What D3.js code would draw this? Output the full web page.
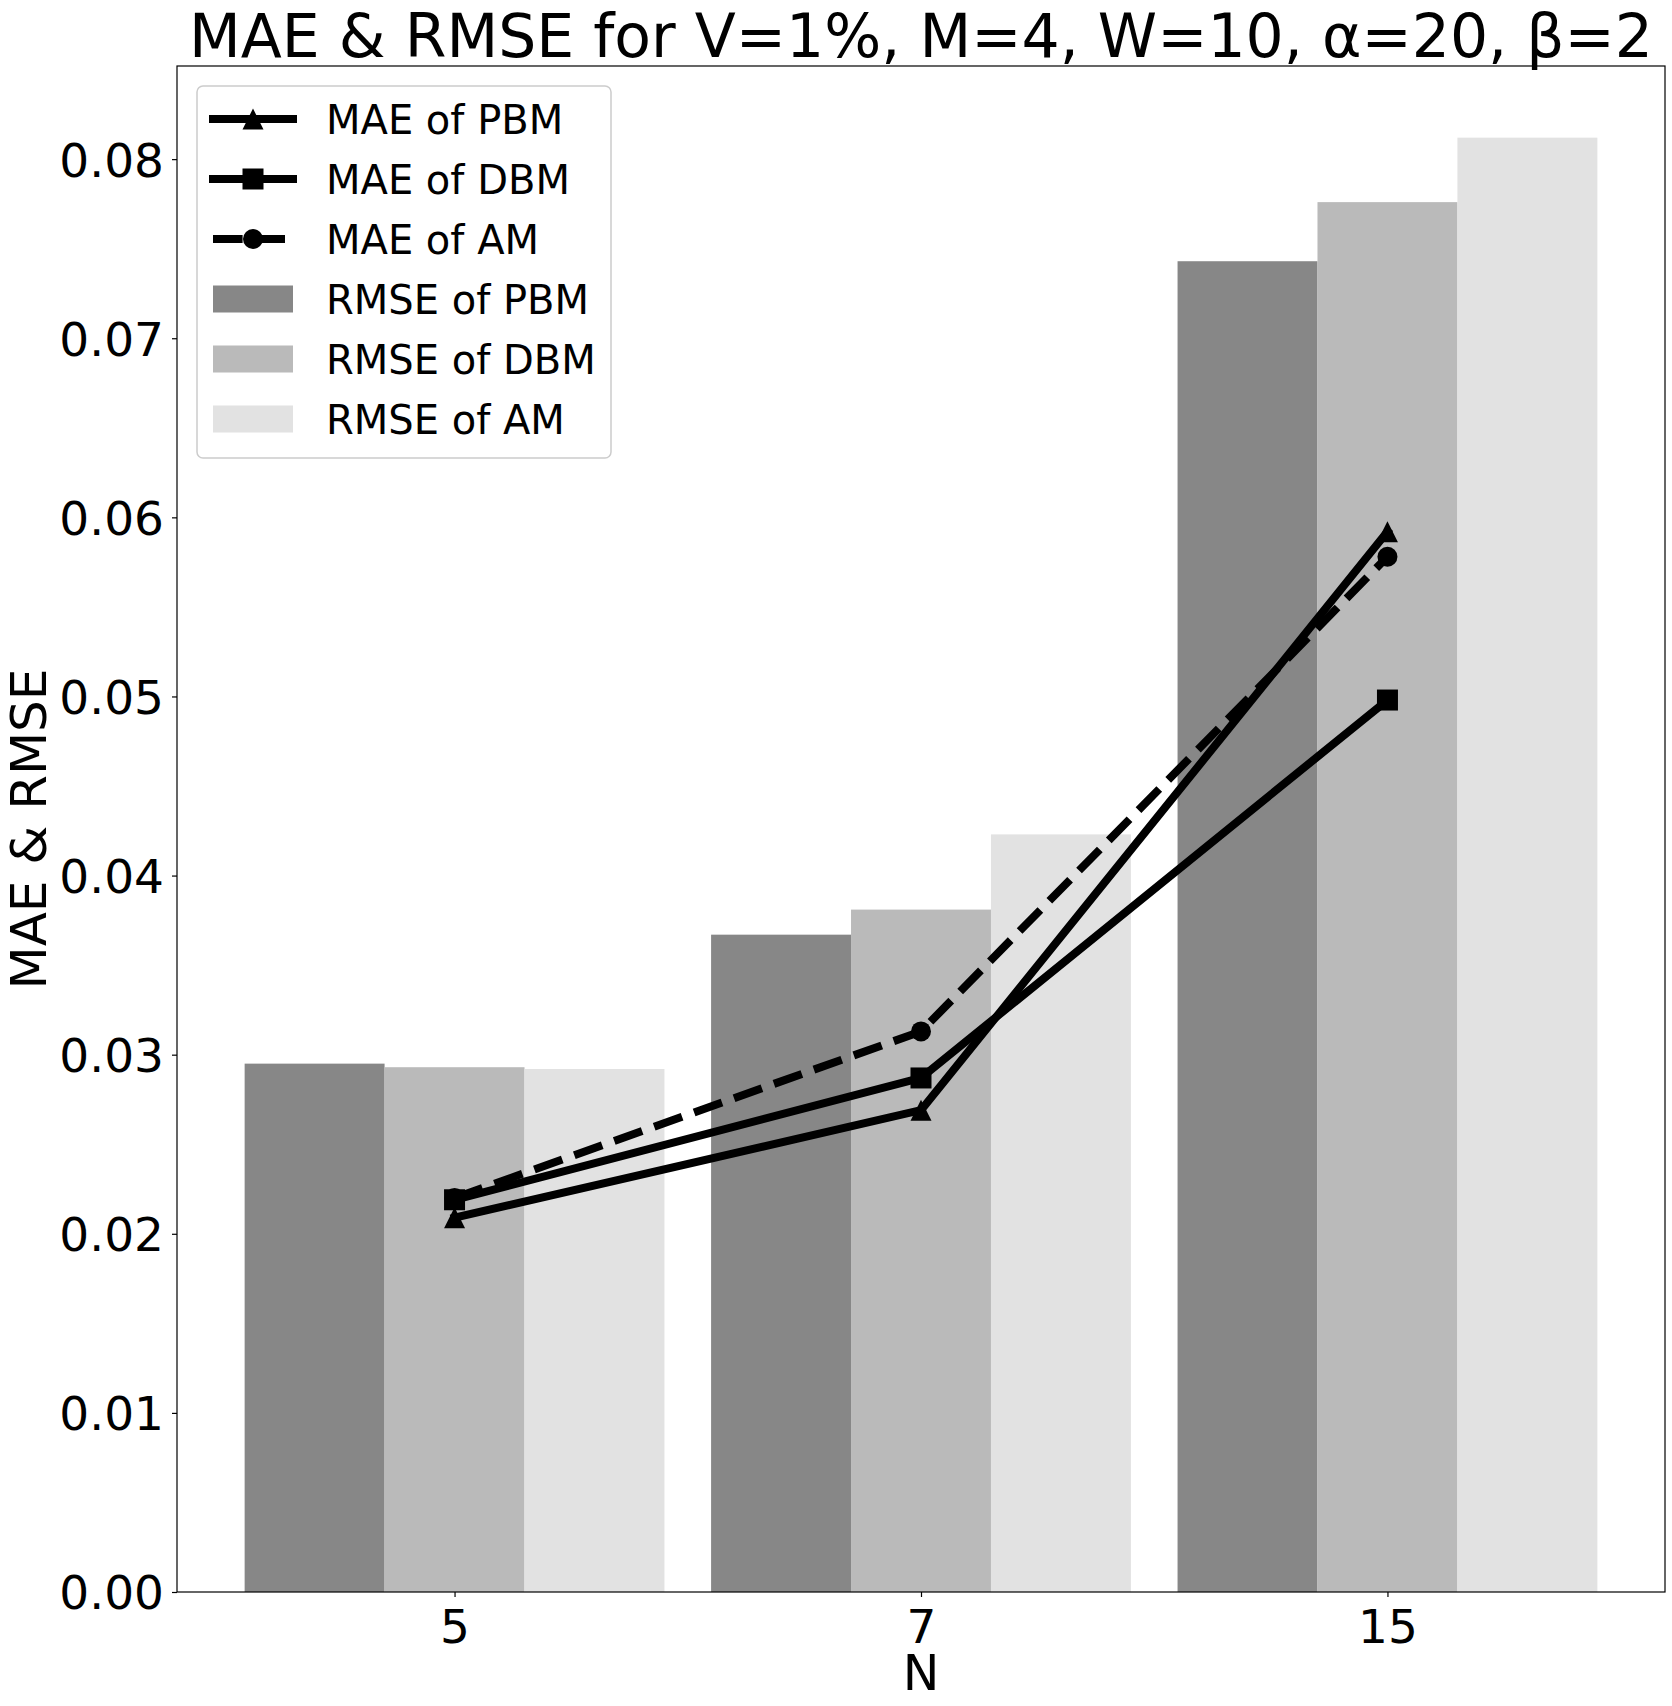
<!DOCTYPE html>
<html>
<head>
<meta charset="utf-8">
<script src="https://cdn.jsdelivr.net/npm/d3@7"></script>
<style>
  html, body { margin: 0; padding: 0; background: #fff; }
  svg { display: block; font-family: "DejaVu Sans", sans-serif; }
</style>
</head>
<body>
<svg id="chart" width="1672" height="1706"></svg>
<script>
// ---- data ----
const categories = ["5", "7", "15"];
const rmsePBM = [0.0295, 0.0367, 0.0743];
const rmseDBM = [0.0293, 0.0381, 0.0776];
const rmseAM  = [0.0292, 0.0423, 0.0812];
const maePBM = [0.0209, 0.0269, 0.0592];
const maeDBM = [0.0219, 0.0287, 0.0498];
const maeAM  = [0.0220, 0.0313, 0.0578];
const yTickValues = [0, 0.01, 0.02, 0.03, 0.04, 0.05, 0.06, 0.07, 0.08];
const barNames = ["RMSE of PBM", "RMSE of DBM", "RMSE of AM"];
const lineNames = ["MAE of PBM", "MAE of DBM", "MAE of AM"];
const titleText = "MAE & RMSE for V=1%, M=4, W=10, α=20, β=2";

// ---- layout ----
const svg = d3.select("#chart");
const L = 177, R = 1665, T = 66, B = 1592;
const x = d3.scaleLinear().domain([-0.595, categories.length - 1 + 0.595]).range([L, R]);
const y = d3.scaleLinear().domain([0, 0.0852]).range([B, T]);
const barW = 0.3;
const barColors = ["#878787", "#bababa", "#e2e2e2"];
const barSeries = [rmsePBM, rmseDBM, rmseAM];
const lineSeries = [maePBM, maeDBM, maeAM];
const markerTypes = ["triangle", "square", "circle"];
const dashed = [false, false, true];
const lw = 8, ms = 21;

svg.append("rect").attr("width", 1672).attr("height", 1706).attr("fill", "#fff");

// bars
barSeries.forEach((vals, s) => {
  svg.append("g").selectAll("rect").data(vals).join("rect")
    .attr("x", (d, i) => x(i + (s - 1) * barW - barW / 2))
    .attr("width", x(barW) - x(0))
    .attr("y", d => y(d))
    .attr("height", d => y(0) - y(d))
    .attr("fill", barColors[s]);
});

function drawMarker(g, type, cx, cy) {
  if (type === "triangle") {
    g.append("path")
      .attr("d", `M${cx},${cy - ms / 2}L${cx - ms / 2},${cy + ms / 2}L${cx + ms / 2},${cy + ms / 2}Z`)
      .attr("fill", "#000");
  } else if (type === "square") {
    g.append("rect").attr("x", cx - ms / 2).attr("y", cy - ms / 2)
      .attr("width", ms).attr("height", ms).attr("fill", "#000");
  } else {
    g.append("circle").attr("cx", cx).attr("cy", cy).attr("r", ms / 2 - 0.5).attr("fill", "#000");
  }
}

// lines
lineSeries.forEach((vals, s) => {
  const g = svg.append("g");
  const line = d3.line().x((d, i) => x(i)).y(d => y(d));
  const p = g.append("path").datum(vals).attr("d", line)
    .attr("fill", "none").attr("stroke", "#000").attr("stroke-width", lw)
    .attr("stroke-linejoin", "round");
  if (dashed[s]) p.attr("stroke-dasharray", "29.6,12.8").attr("stroke-linecap", "butt");
  else p.attr("stroke-linecap", "square");
  vals.forEach((d, i) => drawMarker(g, markerTypes[s], x(i), y(d)));
});

// frame
svg.append("rect").attr("x", L).attr("y", T).attr("width", R - L).attr("height", B - T)
  .attr("fill", "none").attr("stroke", "#000").attr("stroke-width", 1.2);

// y axis
const yAxis = d3.axisLeft(y).tickValues(yTickValues).tickFormat(d3.format(".2f")).tickSize(5).tickPadding(8);
const gy = svg.append("g").attr("transform", `translate(${L},0)`).call(yAxis);
gy.select(".domain").remove();
gy.selectAll(".tick line").attr("stroke", "#000").attr("stroke-width", 1.2);
gy.selectAll(".tick text").attr("font-size", 47).attr("fill", "#000")
  .attr("font-family", "DejaVu Sans").attr("dy", "0.36em");

// x axis
const xAxis = d3.axisBottom(x).tickValues(categories.map((c, i) => i))
  .tickFormat(i => categories[i]).tickSize(5).tickPadding(8);
const gx = svg.append("g").attr("transform", `translate(0,${B})`).call(xAxis);
gx.select(".domain").remove();
gx.selectAll(".tick line").attr("stroke", "#000").attr("stroke-width", 1.2);
gx.selectAll(".tick text").attr("font-size", 47).attr("fill", "#000")
  .attr("font-family", "DejaVu Sans").attr("dy", null).attr("y", 51);

// labels
svg.append("text").attr("x", (L + R) / 2).attr("y", 1690).attr("text-anchor", "middle")
  .attr("font-size", 49).text("N");
svg.append("text").attr("transform", `translate(46,${(T + B) / 2}) rotate(-90)`)
  .attr("text-anchor", "middle").attr("font-size", 50).text("MAE & RMSE");
svg.append("text").attr("x", (L + R) / 2).attr("y", 57).attr("text-anchor", "middle")
  .attr("font-size", 60).text(titleText);

// legend
const lg = svg.append("g");
lg.append("rect").attr("x", 197).attr("y", 86).attr("width", 414).attr("height", 372)
  .attr("rx", 6).attr("fill", "#fff").attr("fill-opacity", 0.8)
  .attr("stroke", "#cccccc").attr("stroke-width", 1.5);
const rowY = i => 119 + 60 * i;
lineNames.forEach((name, s) => {
  const cy = rowY(s);
  const p = lg.append("line").attr("x1", 213).attr("x2", 293).attr("y1", cy).attr("y2", cy)
    .attr("stroke", "#000").attr("stroke-width", lw);
  if (dashed[s]) p.attr("stroke-dasharray", "29.6,12.8").attr("stroke-linecap", "butt");
  else p.attr("stroke-linecap", "square");
  drawMarker(lg, markerTypes[s], 253, cy);
  lg.append("text").attr("x", 326).attr("y", cy + 14.5).attr("font-size", 40).text(name);
});
barNames.forEach((name, s) => {
  const cy = rowY(s + 3);
  lg.append("rect").attr("x", 213).attr("y", cy - 13.5).attr("width", 80).attr("height", 27)
    .attr("fill", barColors[s]);
  lg.append("text").attr("x", 326).attr("y", cy + 14.5).attr("font-size", 40).text(name);
});
</script>
</body>
</html>
